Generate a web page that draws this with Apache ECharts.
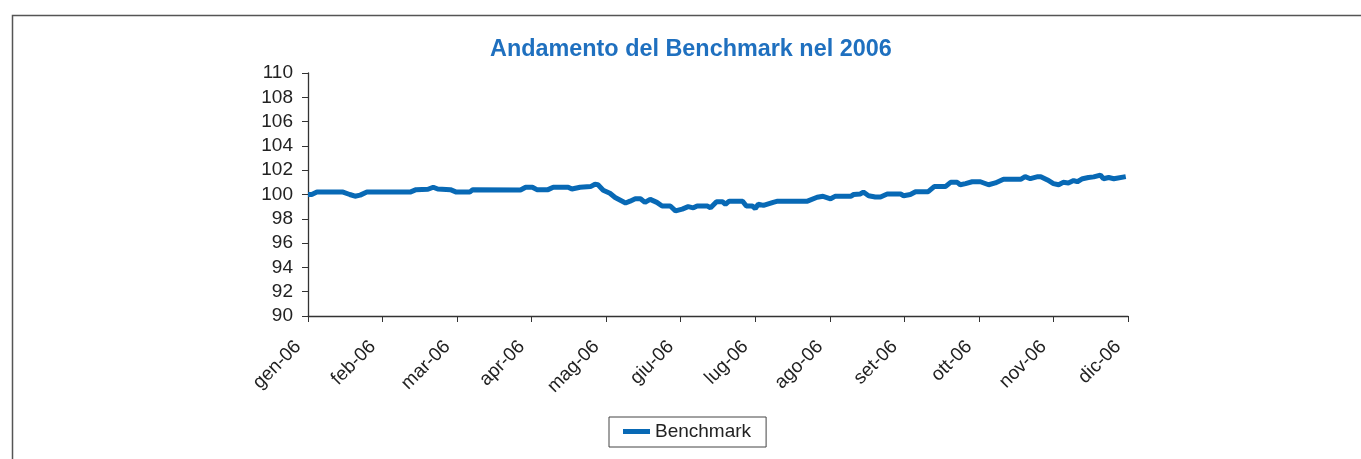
<!DOCTYPE html>
<html>
<head>
<meta charset="utf-8">
<script src="https://cdn.jsdelivr.net/npm/echarts@6/dist/echarts.min.js"></script>
<style>
html,body{margin:0;padding:0;background:#fff;}
#c{width:1361px;height:459px;}
</style>
</head>
<body>
<div id="c"></div>
<script>
const monthLabels = ['gen-06','feb-06','mar-06','apr-06','mag-06','giu-06','lug-06','ago-06','set-06','ott-06','nov-06','dic-06'];
const yTicks = [90,92,94,96,98,100,102,104,106,108,110];
// position in months since gen-06
const benchX = [0.00,0.05,0.12,0.47,0.56,0.63,0.70,0.79,1.37,1.45,1.61,1.68,1.74,1.91,1.99,2.17,2.21,2.85,2.92,3.01,3.07,3.22,3.29,3.49,3.54,3.65,3.79,3.85,3.89,3.96,4.05,4.12,4.26,4.32,4.39,4.46,4.52,4.59,4.68,4.75,4.86,4.93,5.02,5.10,5.17,5.22,5.36,5.40,5.48,5.56,5.60,5.65,5.83,5.88,5.96,6.00,6.04,6.11,6.24,6.30,6.70,6.83,6.91,7.01,7.07,7.28,7.32,7.41,7.45,7.52,7.61,7.68,7.77,7.95,7.99,8.08,8.15,8.32,8.40,8.55,8.62,8.71,8.75,8.82,8.91,9.02,9.13,9.22,9.33,9.56,9.62,9.69,9.79,9.83,9.92,10.00,10.07,10.13,10.20,10.27,10.32,10.39,10.47,10.54,10.63,10.67,10.74,10.81,10.97];
const benchY = [100.0,100.0,100.2,100.2,100.0,99.86,99.95,100.2,100.2,100.4,100.43,100.6,100.45,100.4,100.2,100.2,100.4,100.37,100.6,100.6,100.4,100.4,100.6,100.6,100.45,100.6,100.65,100.84,100.8,100.35,100.1,99.75,99.3,99.45,99.65,99.65,99.35,99.6,99.35,99.05,99.05,98.65,98.8,99.0,98.9,99.05,99.05,98.9,99.4,99.4,99.2,99.45,99.45,99.05,99.05,98.85,99.2,99.1,99.35,99.45,99.45,99.77,99.85,99.65,99.85,99.85,100.0,100.05,100.2,99.9,99.8,99.8,100.04,100.04,99.9,100.0,100.23,100.23,100.65,100.65,101.0,101.0,100.8,100.9,101.05,101.05,100.8,100.95,101.25,101.25,101.47,101.3,101.47,101.47,101.2,100.9,100.8,101.0,100.95,101.15,101.05,101.3,101.4,101.45,101.6,101.3,101.4,101.3,101.47];

const seriesData = benchX.map((x,i)=>[x, benchY[i]]);
const chart = echarts.init(document.getElementById('c'), null, {renderer:'canvas'});
const font = 'Liberation Sans, Arial, sans-serif';
chart.setOption({
  animation:false,
  backgroundColor:'#fff',
  title:{
    text:'Andamento del Benchmark nel 2006',
    left:485, top:33,
    textStyle:{color:'#1F70BF', fontSize:23.4, fontWeight:'bold', fontFamily:font}
  },
  graphic:[{
    type:'rect', shape:{x:12.5,y:15.5,width:1400,height:500},
    style:{fill:'none', stroke:'#555', lineWidth:1.5}, silent:true
  }],
  legend:{
    data:['Benchmark'], left:609, top:417,
    padding:[5,15,6,14],
    borderColor:'#444', borderWidth:1, borderRadius:0,
    itemWidth:27, itemHeight:5, itemGap:6,
    icon:'rect',
    textStyle:{fontSize:19, color:'#222', fontFamily:font}
  },
  grid:{left:308, right:233, top:73, bottom:143, containLabel:false},
  xAxis:{
    type:'value', min:0, max:11, interval:1,
    axisLine:{lineStyle:{color:'#333', width:1.3}},
    axisTick:{length:6, lineStyle:{color:'#333'}},
    splitLine:{show:false},
    axisLabel:{
      rotate:45, fontSize:19, color:'#222', fontFamily:font, margin:18,
      padding:[0,14,0,0],
      formatter:(v)=>monthLabels[Math.round(v)]
    }
  },
  yAxis:{
    type:'value', min:yTicks[0], max:yTicks[yTicks.length-1], interval:2,
    axisLine:{show:true, lineStyle:{color:'#333', width:1.3}},
    axisTick:{show:true, length:6, lineStyle:{color:'#333'}},
    splitLine:{show:false},
    axisLabel:{fontSize:19, color:'#222', fontFamily:font, margin:15}
  },
  series:[{
    name:'Benchmark', type:'line', data:seriesData,
    showSymbol:false, symbol:'none',
    lineStyle:{color:'#0869B5', width:5},
    itemStyle:{color:'#0869B5'}
  }]
});
</script>
</body>
</html>
